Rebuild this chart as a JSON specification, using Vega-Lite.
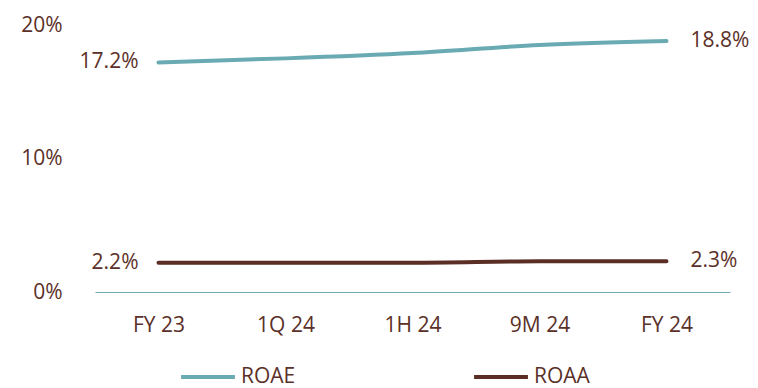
{
  "$schema": "https://vega.github.io/schema/vega-lite/v6.json",
  "autosize": {"type": "none"},
  "width": 635,
  "height": 267,
  "padding": {"left": 95, "top": 25, "right": 28, "bottom": 96},
  "background": "white",
  "config": {
    "view": {"stroke": null},
    "font": "Open Sans",
    "text": {"font": "Open Sans"}
  },
  "data": {
    "values": [
      {"period": "FY 23", "metric": "ROAE", "value": 17.2, "label": "17.2%", "pos": "first"},
      {"period": "1Q 24", "metric": "ROAE", "value": 17.5, "label": "", "pos": "mid"},
      {"period": "1H 24", "metric": "ROAE", "value": 17.9, "label": "", "pos": "mid"},
      {"period": "9M 24", "metric": "ROAE", "value": 18.5, "label": "", "pos": "mid"},
      {"period": "FY 24", "metric": "ROAE", "value": 18.8, "label": "18.8%", "pos": "last"},
      {"period": "FY 23", "metric": "ROAA", "value": 2.2, "label": "2.2%", "pos": "first"},
      {"period": "1Q 24", "metric": "ROAA", "value": 2.2, "label": "", "pos": "mid"},
      {"period": "1H 24", "metric": "ROAA", "value": 2.2, "label": "", "pos": "mid"},
      {"period": "9M 24", "metric": "ROAA", "value": 2.3, "label": "", "pos": "mid"},
      {"period": "FY 24", "metric": "ROAA", "value": 2.3, "label": "2.3%", "pos": "last"}
    ]
  },
  "encoding": {
    "x": {
      "field": "period",
      "type": "ordinal",
      "sort": ["FY 23", "1Q 24", "1H 24", "9M 24", "FY 24"],
      "scale": {"type": "point", "padding": 0.5},
      "axis": {
        "title": null,
        "labelAngle": 0,
        "ticks": false,
        "domainColor": "#6AAAB2",
        "domainOpacity": 1,
        "domainWidth": 1,
        "labelColor": "#5B3028",
        "labelFontSize": 21,
        "labelFont": "Open Sans",
        "labelPadding": 22
      }
    },
    "y": {
      "field": "value",
      "type": "quantitative",
      "scale": {"domain": [0, 20]},
      "axis": {
        "title": null,
        "values": [0, 10, 20],
        "labelExpr": "datum.value + '%'",
        "grid": false,
        "domain": false,
        "ticks": false,
        "labelColor": "#5B3028",
        "labelFontSize": 21,
        "labelFont": "Open Sans",
        "labelPadding": 33
      }
    }
  },
  "layer": [
    {
      "mark": {"type": "line", "strokeWidth": 4, "interpolate": "monotone", "strokeCap": "round"},
      "encoding": {
        "color": {
          "field": "metric",
          "type": "nominal",
          "sort": ["ROAE", "ROAA"],
          "scale": {"domain": ["ROAE", "ROAA"], "range": ["#6AAAB2", "#5A2D25"]},
          "legend": {
            "title": null,
            "orient": "none",
            "direction": "horizontal",
            "legendX": 84,
            "legendY": 323,
            "symbolType": "stroke",
            "symbolSize": 2900,
            "symbolStrokeWidth": 4,
            "labelFontSize": 21,
            "labelFont": "Open Sans",
            "labelColor": "#5B3028",
            "labelOffset": 4,
            "columnPadding": 170
          }
        }
      }
    },
    {
      "transform": [{"filter": "datum.pos == 'first'"}],
      "mark": {"type": "text", "align": "right", "baseline": "middle", "dx": -20, "fontSize": 21, "color": "#5B3028"},
      "encoding": {"text": {"field": "label"}}
    },
    {
      "transform": [{"filter": "datum.pos == 'last'"}],
      "mark": {"type": "text", "align": "left", "baseline": "middle", "dx": 24, "fontSize": 21, "color": "#5B3028"},
      "encoding": {"text": {"field": "label"}}
    }
  ]
}
